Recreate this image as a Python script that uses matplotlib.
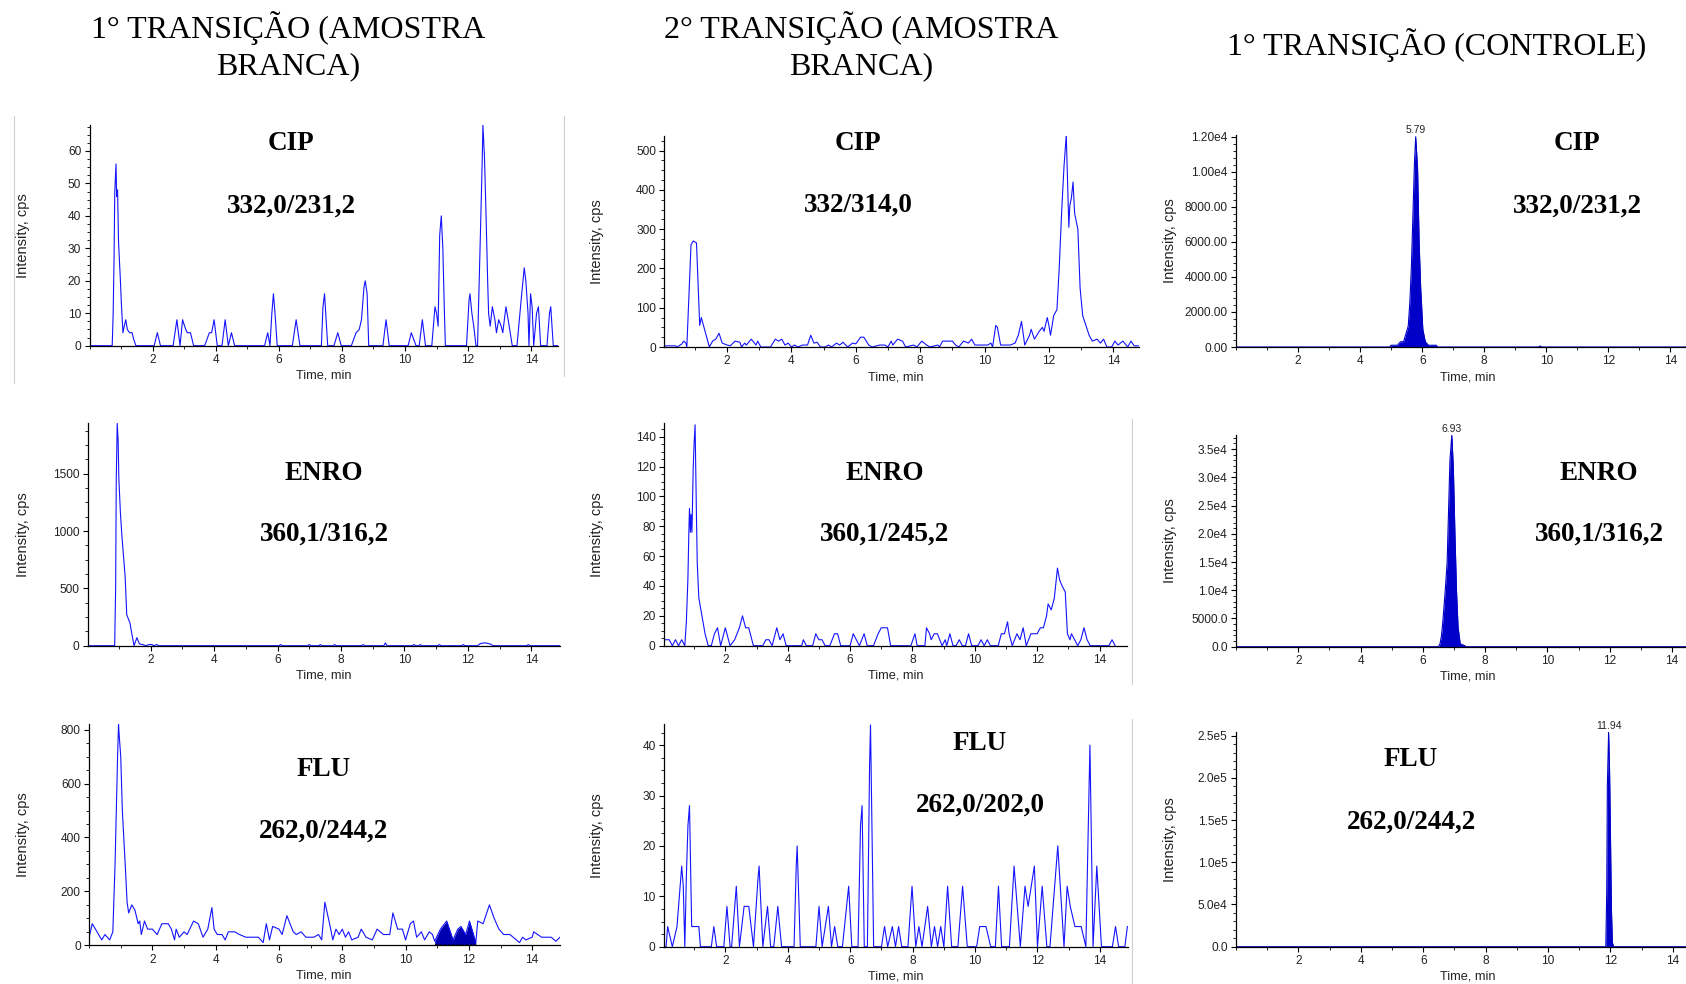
import matplotlib
matplotlib.use("Agg")
import matplotlib.pyplot as plt
import numpy as np
from matplotlib.lines import Line2D
from matplotlib.ticker import FuncFormatter, MultipleLocator

# ---- data: (time min, intensity cps) ----
col_titles = ["1° TRANSIÇÃO (AMOSTRA\nBRANCA)", "2° TRANSIÇÃO (AMOSTRA\nBRANCA)", "1° TRANSIÇÃO (CONTROLE)"]
compounds = ["CIP", "ENRO", "FLU"]
transitions = [
    ["332,0/231,2", "332/314,0", "332,0/231,2"],
    ["360,1/316,2", "360,1/245,2", "360,1/316,2"],
    ["262,0/244,2", "262,0/202,0", "262,0/244,2"],
]

cip_blank1 = [
    (0.0, 0), (0.72, 0), (0.75, 10), (0.78, 28), (0.8, 47), (0.84, 56), (0.86, 46), (0.89, 48),
    (0.92, 32), (0.98, 20), (1.01, 13), (1.06, 4), (1.1, 6), (1.15, 8), (1.2, 5), (1.27, 4),
    (1.35, 4), (1.4, 2), (1.47, 0), (2.05, 0), (2.15, 4), (2.25, 0), (2.65, 0), (2.77, 8),
    (2.87, 0), (2.95, 8), (3.05, 5), (3.1, 4), (3.2, 4), (3.3, 0), (3.65, 0), (3.8, 4),
    (3.87, 4), (3.95, 8), (4.05, 0), (4.2, 0), (4.3, 8), (4.4, 0), (4.5, 4), (4.6, 0),
    (5.55, 0), (5.65, 4), (5.72, 0), (5.78, 10), (5.83, 16), (5.88, 10), (5.95, 0), (6.43, 0),
    (6.55, 8), (6.67, 0), (7.35, 0), (7.4, 12), (7.45, 16), (7.55, 0), (7.75, 0), (7.87, 4),
    (7.98, 0), (8.3, 0), (8.45, 4), (8.55, 5), (8.62, 8), (8.7, 18), (8.74, 20), (8.8, 16),
    (8.85, 0), (9.3, 0), (9.4, 8), (9.5, 0), (10.1, 0), (10.2, 4), (10.35, 0), (10.45, 0),
    (10.5, 4), (10.55, 8), (10.65, 0), (10.85, 0), (10.95, 12), (11.0, 10), (11.05, 6),
    (11.1, 34), (11.15, 40), (11.2, 30), (11.25, 10), (11.28, 0), (11.95, 0), (12.03, 14),
    (12.06, 16), (12.12, 10), (12.18, 6), (12.25, 0), (12.3, 0), (12.4, 38), (12.45, 58),
    (12.47, 68), (12.52, 58), (12.57, 40), (12.62, 20), (12.65, 10), (12.7, 6), (12.77, 12),
    (12.85, 8), (12.9, 4), (12.97, 8), (13.05, 6), (13.1, 4), (13.2, 12), (13.27, 8),
    (13.4, 0), (13.55, 0), (13.7, 16), (13.78, 24), (13.83, 20), (13.9, 10), (13.93, 0),
    (13.98, 16), (14.03, 12), (14.08, 0), (14.17, 10), (14.23, 12), (14.3, 0), (14.5, 0),
    (14.58, 10), (14.62, 12), (14.7, 0), (14.85, 0),
]

cip_blank2 = [
    (0.05, 3), (0.4, 3), (0.45, 0), (0.6, 8), (0.65, 15), (0.72, 10), (0.75, 0), (0.8, 100),
    (0.85, 200), (0.88, 260), (0.95, 270), (1.05, 265), (1.1, 160), (1.13, 90), (1.15, 55),
    (1.2, 75), (1.25, 60), (1.35, 30), (1.45, 0), (1.55, 15), (1.65, 20), (1.75, 35),
    (1.85, 10), (2.0, 5), (2.1, 3), (2.25, 15), (2.4, 12), (2.45, 0), (2.55, 10), (2.6, 5),
    (2.75, 20), (2.9, 5), (2.95, 15), (3.05, 0), (3.35, 0), (3.5, 20), (3.6, 15), (3.7, 20),
    (3.8, 5), (3.9, 10), (4.0, 0), (4.1, 5), (4.2, 0), (4.35, 5), (4.5, 5), (4.6, 30),
    (4.7, 10), (4.8, 12), (4.9, 0), (5.05, 0), (5.15, 5), (5.25, 0), (5.4, 10), (5.5, 5),
    (5.6, 12), (5.75, 0), (5.9, 10), (6.0, 8), (6.15, 25), (6.25, 25), (6.4, 5), (6.5, 0),
    (6.75, 5), (6.9, 5), (7.0, 0), (7.1, 15), (7.15, 5), (7.3, 20), (7.45, 15), (7.55, 0),
    (7.8, 5), (7.9, 0), (8.05, 15), (8.2, 5), (8.3, 0), (8.55, 5), (8.6, 0), (8.7, 15),
    (9.0, 15), (9.1, 5), (9.2, 0), (9.35, 15), (9.5, 10), (9.6, 20), (9.7, 5), (10.1, 5),
    (10.2, 10), (10.25, 0), (10.35, 55), (10.4, 50), (10.5, 5), (10.8, 5), (10.95, 10),
    (11.05, 30), (11.15, 65), (11.25, 5), (11.4, 30), (11.45, 45), (11.55, 20), (11.7, 40),
    (11.8, 50), (11.85, 40), (11.95, 75), (12.0, 55), (12.05, 30), (12.15, 80), (12.25, 95),
    (12.32, 200), (12.4, 350), (12.47, 460), (12.54, 540), (12.58, 420), (12.62, 305),
    (12.65, 360), (12.7, 380), (12.75, 420), (12.8, 340), (12.9, 300), (12.97, 150),
    (13.05, 80), (13.15, 55), (13.25, 30), (13.35, 15), (13.5, 20), (13.6, 10), (13.7, 20),
    (13.8, 0), (13.95, 0), (14.05, 15), (14.15, 5), (14.3, 15), (14.45, 0), (14.55, 15),
    (14.65, 3), (14.8, 3),
]

cip_control = [
    (0.0, 0), (4.95, 0), (5.0, 100), (5.2, 100), (5.3, 300), (5.4, 300), (5.45, 600),
    (5.55, 1200), (5.6, 2500), (5.65, 4500), (5.7, 7500), (5.75, 10500), (5.79, 12000),
    (5.85, 10200), (5.9, 6000), (5.95, 3400), (6.02, 1000), (6.1, 300), (6.2, 100),
    (6.45, 100), (6.5, 0), (9.75, 0), (9.8, 60), (9.85, 0), (14.5, 0),
]

enro_blank1 = [
    (0.02, 0), (0.87, 0), (0.9, 500), (0.92, 1450), (0.95, 1940), (0.98, 1780), (1.0, 1470),
    (1.05, 1160), (1.1, 950), (1.2, 600), (1.25, 270), (1.35, 200), (1.4, 120), (1.48, 0),
    (1.57, 70), (1.65, 15), (1.75, 10), (1.85, 0), (1.95, 10), (2.05, 10), (2.1, 0),
    (2.2, 10), (2.25, 0), (6.05, 0), (6.1, 10), (6.15, 0), (6.95, 0), (7.0, 10), (7.05, 0),
    (7.3, 0), (7.35, 10), (7.4, 0), (7.75, 0), (7.8, 10), (7.85, 0), (8.65, 0), (8.7, 10),
    (8.75, 0), (9.35, 0), (9.4, 25), (9.45, 0), (10.25, 0), (10.3, 10), (10.35, 0),
    (10.45, 0), (10.5, 10), (10.55, 0), (11.05, 0), (11.1, 10), (11.15, 0), (11.8, 0),
    (11.85, 10), (11.9, 0), (12.3, 0), (12.4, 20), (12.55, 25), (12.7, 15), (12.8, 0),
    (13.85, 0), (13.9, 10), (13.95, 0), (14.9, 0),
]

enro_blank2 = [
    (0.04, 4), (0.2, 4), (0.3, 0), (0.4, 4), (0.5, 0), (0.6, 4), (0.7, 0), (0.75, 16),
    (0.8, 45), (0.83, 76), (0.85, 92), (0.88, 76), (0.9, 88), (0.93, 76), (0.97, 120),
    (1.0, 136), (1.03, 148), (1.07, 92), (1.1, 55), (1.15, 32), (1.25, 20), (1.35, 8),
    (1.45, 0), (1.55, 0), (1.65, 8), (1.75, 12), (1.85, 0), (2.0, 12), (2.15, 0), (2.3, 4),
    (2.45, 12), (2.55, 20), (2.65, 12), (2.75, 12), (2.9, 0), (3.2, 0), (3.3, 4), (3.4, 4),
    (3.5, 0), (3.6, 8), (3.65, 12), (3.75, 4), (3.85, 8), (3.95, 0), (4.45, 0), (4.5, 4),
    (4.6, 0), (4.8, 0), (4.9, 8), (5.0, 4), (5.1, 4), (5.2, 0), (5.35, 0), (5.5, 8),
    (5.6, 8), (5.7, 0), (6.0, 0), (6.1, 8), (6.2, 4), (6.3, 0), (6.45, 8), (6.55, 0),
    (6.75, 0), (6.9, 8), (7.0, 12), (7.2, 12), (7.3, 0), (7.95, 0), (8.08, 8), (8.15, 0),
    (8.4, 0), (8.45, 12), (8.55, 8), (8.6, 4), (8.7, 8), (8.8, 8), (8.95, 0), (9.05, 4),
    (9.1, 0), (9.2, 8), (9.3, 0), (9.4, 0), (9.5, 4), (9.6, 0), (9.7, 0), (9.8, 8),
    (9.9, 0), (10.1, 0), (10.2, 4), (10.3, 0), (10.4, 4), (10.5, 0), (10.75, 0),
    (10.85, 8), (10.95, 8), (11.05, 16), (11.1, 8), (11.2, 0), (11.35, 8), (11.45, 4),
    (11.55, 12), (11.65, 0), (11.8, 8), (12.0, 8), (12.1, 12), (12.2, 12), (12.3, 20),
    (12.35, 28), (12.45, 24), (12.55, 32), (12.65, 52), (12.72, 44), (12.8, 40),
    (12.9, 36), (12.97, 8), (13.05, 4), (13.1, 8), (13.3, 0), (13.4, 4), (13.5, 12),
    (13.6, 4), (13.7, 0), (14.3, 0), (14.4, 4), (14.5, 0),
]

enro_control = [
    (0.0, 0), (6.5, 0), (6.55, 500), (6.6, 2000), (6.65, 5000), (6.72, 10000), (6.78, 15000),
    (6.83, 25000), (6.87, 33000), (6.93, 37500), (6.98, 31500), (7.03, 20000), (7.08, 10000),
    (7.13, 3500), (7.2, 500), (7.3, 300), (7.4, 0), (14.45, 0),
]

flu_blank1 = [
    (0.0, 30), (0.1, 80), (0.25, 50), (0.4, 20), (0.5, 40), (0.65, 20), (0.75, 50),
    (0.82, 300), (0.9, 700), (0.93, 820), (0.95, 780), (1.0, 700), (1.05, 500), (1.15, 280),
    (1.2, 160), (1.25, 120), (1.35, 150), (1.45, 130), (1.55, 80), (1.6, 90), (1.65, 40),
    (1.75, 90), (1.85, 60), (2.0, 60), (2.15, 40), (2.3, 80), (2.5, 80), (2.6, 60),
    (2.7, 20), (2.75, 60), (2.85, 30), (3.0, 50), (3.1, 40), (3.3, 90), (3.45, 80),
    (3.6, 30), (3.75, 60), (3.88, 140), (3.95, 60), (4.05, 40), (4.2, 40), (4.3, 20),
    (4.4, 50), (4.6, 50), (4.75, 40), (4.95, 30), (5.35, 30), (5.5, 10), (5.6, 80),
    (5.7, 20), (5.8, 70), (6.0, 60), (6.1, 40), (6.25, 110), (6.45, 50), (6.55, 40),
    (6.7, 50), (6.85, 30), (7.1, 30), (7.25, 40), (7.35, 20), (7.45, 160), (7.6, 80),
    (7.7, 20), (7.8, 60), (7.9, 40), (8.0, 60), (8.1, 30), (8.2, 50), (8.3, 20), (8.5, 30),
    (8.6, 60), (8.75, 30), (8.95, 20), (9.1, 60), (9.3, 40), (9.5, 40), (9.6, 120),
    (9.75, 60), (9.9, 60), (10.0, 20), (10.15, 80), (10.25, 90), (10.35, 30), (10.5, 50),
    (10.6, 20), (10.75, 50), (10.85, 40), (10.92, 15), (11.1, 60), (11.3, 90), (11.5, 20),
    (11.65, 60), (11.75, 70), (11.9, 40), (12.02, 90), (12.22, 10), (12.28, 90),
    (12.45, 80), (12.65, 150), (12.8, 100), (12.95, 60), (13.1, 40), (13.3, 40),
    (13.5, 20), (13.6, 10), (13.7, 30), (13.8, 20), (14.0, 30), (14.05, 50), (14.3, 30),
    (14.6, 30), (14.75, 15), (14.88, 30),
]
flu_blank1_peak = (10.92, 12.22)

flu_blank2 = [
    (0.04, 0), (0.1, 0), (0.15, 4), (0.3, 0), (0.45, 4), (0.5, 8), (0.6, 16), (0.65, 12),
    (0.7, 0), (0.75, 14), (0.8, 24), (0.85, 28), (0.92, 4), (1.15, 4), (1.2, 0), (1.55, 0),
    (1.63, 4), (1.72, 0), (1.95, 0), (2.05, 8), (2.15, 0), (2.2, 0), (2.35, 12), (2.45, 0),
    (2.6, 8), (2.75, 8), (2.9, 0), (3.05, 14), (3.08, 16), (3.2, 0), (3.35, 8), (3.45, 0),
    (3.55, 0), (3.68, 8), (3.8, 0), (4.2, 0), (4.27, 16), (4.3, 20), (4.4, 0), (4.9, 0),
    (5.0, 8), (5.1, 0), (5.3, 8), (5.4, 0), (5.5, 4), (5.6, 0), (5.75, 0), (5.95, 12),
    (6.05, 0), (6.25, 0), (6.33, 24), (6.38, 28), (6.45, 0), (6.55, 0), (6.62, 36),
    (6.65, 44), (6.75, 0), (7.0, 0), (7.1, 4), (7.2, 0), (7.35, 4), (7.45, 0), (7.55, 4),
    (7.65, 0), (7.85, 0), (7.98, 12), (8.1, 0), (8.2, 4), (8.3, 0), (8.48, 8), (8.6, 0),
    (8.7, 4), (8.8, 0), (8.9, 4), (9.0, 0), (9.12, 12), (9.25, 0), (9.45, 0), (9.6, 12),
    (9.75, 0), (10.05, 0), (10.15, 4), (10.35, 4), (10.5, 0), (10.65, 0), (10.75, 12),
    (10.85, 0), (11.1, 0), (11.25, 16), (11.45, 0), (11.6, 12), (11.7, 8), (11.8, 12),
    (11.9, 16), (12.0, 0), (12.15, 12), (12.3, 0), (12.4, 0), (12.55, 12), (12.65, 20),
    (12.85, 0), (12.95, 12), (13.05, 8), (13.2, 4), (13.4, 4), (13.55, 0), (13.68, 40),
    (13.78, 0), (13.9, 16), (14.05, 0), (14.4, 0), (14.5, 4), (14.6, 0), (14.8, 0),
    (14.88, 4),
]

flu_control = [
    (0.0, 0), (11.85, 0), (11.88, 65000), (11.9, 190000), (11.94, 254000), (11.97, 210000),
    (12.0, 130000), (12.03, 45000), (12.06, 5000), (12.1, 0), (14.42, 0),
]

traces = [
    [cip_blank1, cip_blank2, cip_control],
    [enro_blank1, enro_blank2, enro_control],
    [flu_blank1, flu_blank2, flu_control],
]
y_ticks = [
    [np.arange(0, 61, 10), np.arange(0, 501, 100), np.arange(0, 12001, 2000)],
    [np.arange(0, 1501, 500), np.arange(0, 141, 20), np.arange(0, 35001, 5000)],
    [np.arange(0, 801, 200), np.arange(0, 41, 10), np.arange(0, 250001, 50000)],
]
peak_labels = {(0, 1): 12.54, (0, 2): 5.79, (1, 2): 6.93, (2, 2): 11.94}

# ---- layout, in pixels of the 1686x984 picture ----
W, H = 1686, 984
# left, right, bottom, top, xlim, ylim
boxes = [
    [(89.5, 558, 345.7, 125, (0, 14.85), (0, 68)),
     (664.3, 1139, 347, 135.7, (0.05, 14.8), (0, 538)),
     (1236, 1686, 347, 135, (0, 14.5), (0, 12100))],
    [(87.7, 560, 645.7, 423.3, (0.02, 14.9), (0, 1940)),
     (663.9, 1127, 645.7, 423.3, (0.03, 14.88), (0, 149)),
     (1236, 1686, 646.7, 435, (0, 14.45), (0, 37500))],
    [(89.1, 560, 945.3, 724, (0, 14.88), (0, 821)),
     (663.9, 1128, 946.7, 724, (0.03, 14.9), (0, 44.2)),
     (1236, 1686, 946.7, 732.3, (0, 14.42), (0, 254000))],
]
ylabel_x = [23.5, 597, 1170]
xlabel_x = [323.7, 896, 1468]
label_pos = [
    [(291, 144, 206), (858, 144, 205), (1577, 144, 206)],
    [(324, 473, 534), (885, 473, 534), (1599, 473, 534)],
    [(324, 770, 831), (980, 744, 805), (1411, 760, 822)],
]

blue = "#1414ff"
fill_blue = "#0000c8"
serif = ["Liberation Serif", "DejaVu Serif"]
sans = ["Liberation Sans", "DejaVu Sans"]


def sci_fmt(decimals):
    def f(v, pos):
        if v < 1e4:
            return f"{v:.{decimals}f}"
        e = int(np.floor(np.log10(v)))
        return f"{v / 10 ** e:.{decimals}f}e{e}"
    return FuncFormatter(f)


fig = plt.figure(figsize=(W / 100, H / 100), dpi=100)

for c, title in enumerate(col_titles):
    cx = [288, 861, 1437][c]
    cy = [46, 46, 45][c]
    fig.text(cx / W, 1 - cy / H, title, ha="center", va="center", family=serif,
             fontsize=23, linespacing=1.3)

for r in range(3):
    for c in range(3):
        left, right, bottom, top, xlim, ylim = boxes[r][c]
        ax = fig.add_axes([left / W, 1 - bottom / H, (right - left) / W, (bottom - top) / H])
        t, y = np.array(traces[r][c], dtype=float).T

        if c == 2:
            ax.fill_between(t, y, color=fill_blue, lw=0)
            ax.plot(t, y, color=fill_blue, lw=0.8)
        else:
            ax.plot(t, y, color=blue, lw=0.8)
        if (r, c) == (2, 0):
            t0, t1 = flu_blank1_peak
            mask = (t >= t0) & (t <= t1)
            ax.fill_between(t, y, where=mask, color="#0000b0", lw=0)
            ax.plot([t0, t1], [0, 0], color="black", ls=":", lw=1.2)

        if (r, c) in peak_labels:
            pt = peak_labels[(r, c)]
            ax.annotate(f"{pt:.2f}", (pt, y.max()), xytext=(0, 1), textcoords="offset points",
                        ha="center", va="bottom", fontsize=7.5, family=sans, color="#222222")

        ax.set_xlim(*xlim)
        ax.set_ylim(*ylim)
        ax.set_xticks(np.arange(2, 15, 2))
        ax.xaxis.set_minor_locator(MultipleLocator(1))
        yt = y_ticks[r][c]
        ax.set_yticks(yt)
        ax.yaxis.set_minor_locator(MultipleLocator((yt[1] - yt[0]) / (5 if c == 2 else 4)))
        if c == 2:
            ax.yaxis.set_major_formatter(sci_fmt(2 if r == 0 else 1))

        for s in ["top", "right"]:
            ax.spines[s].set_visible(False)
        for s in ["left", "bottom"]:
            ax.spines[s].set_linewidth(0.9)
        ax.tick_params(which="major", direction="out", length=3.5, width=0.8, pad=2.5,
                       labelsize=8.6, labelcolor="#222222")
        ax.tick_params(which="minor", direction="out", length=2, width=0.6)
        for lab in ax.get_xticklabels() + ax.get_yticklabels():
            lab.set_family(sans)

        ax.set_ylabel("Intensity, cps", family=sans, fontsize=10.5, color="#222222")
        ax.yaxis.label.set_va("center")
        ax.yaxis.set_label_coords((ylabel_x[c] - left) / (right - left), 0.5)
        ax.set_xlabel("Time, min", family=sans, fontsize=9.2, color="#222222")
        ax.xaxis.label.set_va("center")
        ax.xaxis.set_label_coords((xlabel_x[c] - left) / (right - left), -30 / (bottom - top))

        lx, ly1, ly2 = label_pos[r][c]
        fig.text(lx / W, 1 - ly1 / H, compounds[r], ha="center", va="center",
                 family=serif, fontsize=19.5, fontweight="bold")
        fig.text(lx / W, 1 - ly2 / H, transitions[r][c], ha="center", va="center",
                 family=serif, fontsize=19.5, fontweight="bold")

# faint frame lines left over from the pasted screenshots
for x, y1, y2 in [(14, 116, 383), (564, 116, 376), (1132, 419, 684), (1132, 719, 984)]:
    fig.add_artist(Line2D([x / W, x / W], [1 - y1 / H, 1 - y2 / H], color="#d0d0d0", lw=0.8))

fig.savefig("out.png", dpi=100)
